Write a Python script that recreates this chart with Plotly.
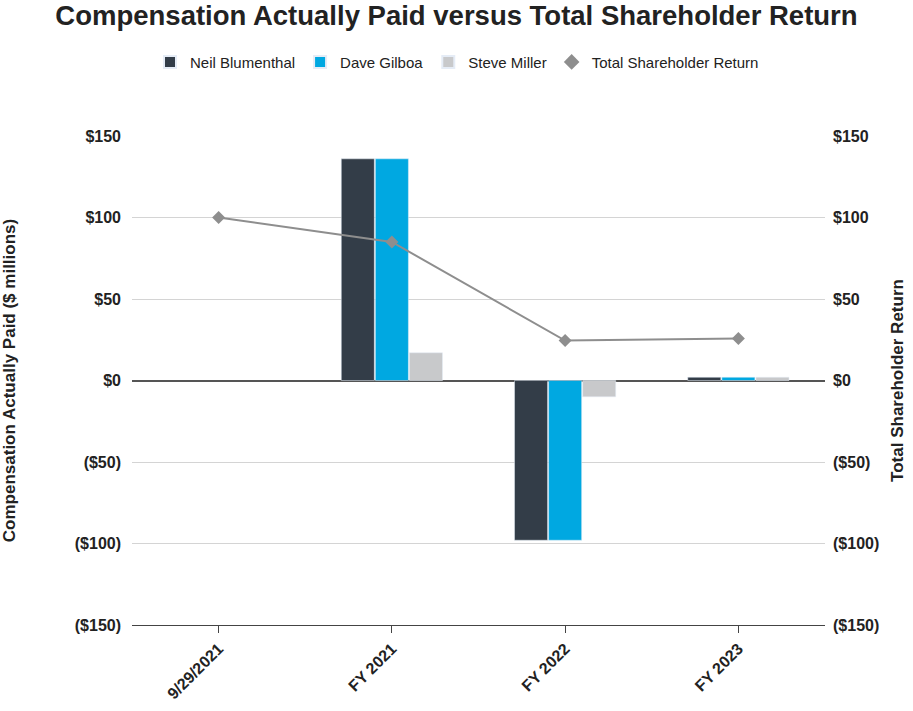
import plotly.graph_objects as go

categories = ["9/29/2021", "FY 2021", "FY 2022", "FY 2023"]
neil = [None, 136, -98, 2]
dave = [None, 136, -98, 2]
steve = [None, 17, -10, 2]
tsr = [100, 85, 24.5, 25.8]
tick_vals = [150, 100, 50, 0, -50, -100, -150]
tick_text = ["$150", "$100", "$50", "$0", "($50)", "($100)", "($150)"]

FONT = "Liberation Sans, Arial, sans-serif"
TSR_COLOR = "#8e8e8e"

fig = go.Figure()
fig.add_trace(go.Bar(name="Neil Blumenthal", x=categories, y=neil, marker_color="#333d48"))
fig.add_trace(go.Bar(name="Dave Gilboa", x=categories, y=dave, marker_color="#00a8e1"))
fig.add_trace(go.Bar(name="Steve Miller", x=categories, y=steve, marker_color="#c8c9cb"))
fig.add_trace(go.Scatter(name="Total Shareholder Return", x=categories, y=tsr, yaxis="y2",
                         mode="lines+markers", showlegend=False,
                         line=dict(color=TSR_COLOR, width=2),
                         marker=dict(symbol="diamond", size=10, color=TSR_COLOR)))
# legend-only entry showing just the diamond symbol
fig.add_trace(go.Scatter(name="Total Shareholder Return", x=[None], y=[None], yaxis="y2",
                         mode="markers", showlegend=True,
                         marker=dict(symbol="diamond", size=11, color=TSR_COLOR)))

fig.update_layout(
    width=913, height=711,
    paper_bgcolor="white", plot_bgcolor="white",
    font=dict(family=FONT, color="#222"),
    title=dict(text="<b>Compensation Actually Paid versus Total Shareholder Return</b>",
               x=0.5, xanchor="center", y=0.979, yanchor="middle",
               font=dict(size=27.5, color="#222")),
    legend=dict(orientation="h", x=0.469, xanchor="center", y=1.151, yanchor="middle",
                font=dict(size=15, color="#222"), itemsizing="constant",
                traceorder="normal", itemwidth=30),
    barmode="group", bargap=0.41, bargroupgap=0.03,
    margin=dict(l=132, r=88, t=136, b=86),
    xaxis=dict(showline=True, linecolor="#444", linewidth=1.2, ticks="outside",
               ticklen=7, tickcolor="#444", tickangle=-45,
               tickvals=categories, ticktext=[f"<b>{c}</b>" for c in categories],
               tickfont=dict(size=16, color="#222", family=FONT),
               showgrid=False, automargin=False),
    yaxis=dict(range=[-150, 150], tickvals=tick_vals,
               ticktext=[f"<b>{t}</b>" for t in tick_text],
               showgrid=True, gridcolor="#d4d4d4", gridwidth=1,
               zeroline=True, zerolinecolor="#555", zerolinewidth=1.5,
               tickfont=dict(size=16, color="#222", family=FONT),
               ticks="", ticklabelstandoff=10, automargin=False,
               title=dict(text="<b>Compensation Actually Paid ($ millions)</b>",
                          font=dict(size=17, color="#222"), standoff=56)),
    yaxis2=dict(range=[-150, 150], tickvals=tick_vals,
                ticktext=[f"<b>{t}</b>" for t in tick_text],
                overlaying="y", side="right", showgrid=False, zeroline=False,
                tickfont=dict(size=16, color="#222", family=FONT),
                ticks="", ticklabelstandoff=7, automargin=False,
                title=dict(text="<b>Total Shareholder Return</b>",
                           font=dict(size=17, color="#222"), standoff=12)),
)

fig.write_html("out.html", config={"displayModeBar": False},
               post_script="document.body.style.margin='0';document.body.style.overflow='hidden';")
